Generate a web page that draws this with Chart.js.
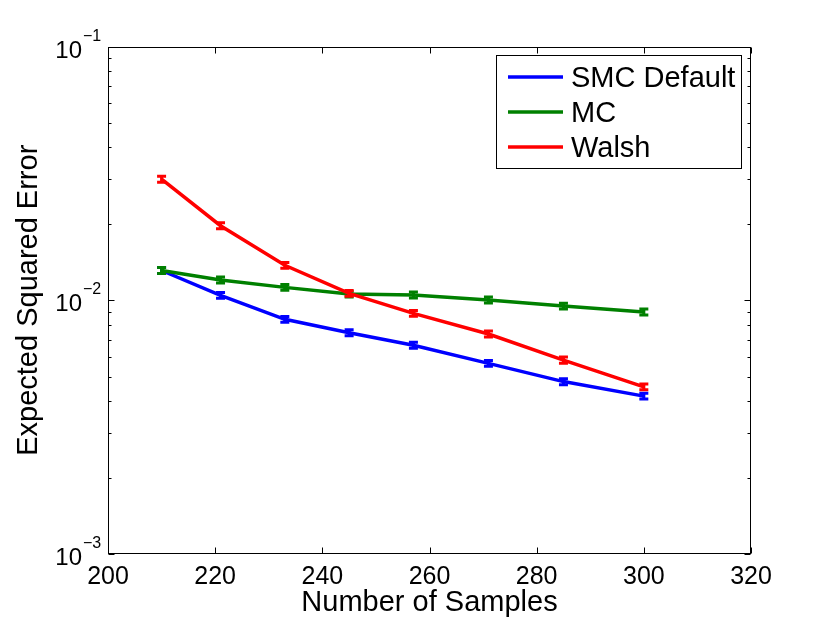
<!DOCTYPE html>
<html>
<head>
<meta charset="utf-8">
<script src="https://cdn.jsdelivr.net/npm/chart.js@4.4.1/dist/chart.umd.min.js"></script>
<style>
  html, body { margin: 0; padding: 0; background: #fff; }
  #wrap { width: 830px; height: 625px; }
</style>
</head>
<body>
<div id="wrap"><canvas id="errorChart" width="830" height="625"></canvas></div>
<script>
// values
const samples = [210, 221, 233, 245, 257, 271, 285, 300];

const smcDefault    = [0.0131, 0.01046, 0.00841, 0.00745, 0.00665, 0.00564, 0.00478, 0.00419];
const smcDefaultErr = [0.00035, 0.00028, 0.00022, 0.0002, 0.00018, 0.00015, 0.00013, 0.00011];

const mc    = [0.0131, 0.01202, 0.01124, 0.01058, 0.01049, 0.01002, 0.00949, 0.00899];
const mcErr = [0.00035, 0.00032, 0.0003, 0.00028, 0.00028, 0.00027, 0.00025, 0.00024];

const walsh    = [0.0300, 0.01967, 0.01373, 0.01065, 0.00888, 0.00736, 0.00581, 0.00456];
const walshErr = [0.0008, 0.00052, 0.00036, 0.00028, 0.00024, 0.0002, 0.00016, 0.00012];

const seriesNames = ['SMC Default', 'MC', 'Walsh'];
const xTicks = [200, 220, 240, 260, 280, 300, 320];
const yDecades = [0.001, 0.01, 0.1];
const yDecadeExps = ['\u22123', '\u22122', '\u22121'];
const minorSteps = [2, 3, 4, 5, 6, 7, 8, 9];

const FONT = '"Liberation Sans", Arial, Helvetica, sans-serif';

const toPoints = (vals) => vals.map((v, i) => ({ x: samples[i], y: v }));

// error bars drawn right after each series so the layering matches
const errorBars = {
  id: 'errorBars',
  afterDatasetDraw(chart, args) {
    const ds = chart.data.datasets[args.index];
    const xs = chart.scales.x, ys = chart.scales.y;
    const ctx = chart.ctx;
    ctx.save();
    ctx.strokeStyle = ds.borderColor;
    ctx.lineWidth = 3;
    ds.errors.forEach((e, i) => {
      const v = ds.data[i].y;
      const x = xs.getPixelForValue(ds.data[i].x);
      const yHi = ys.getPixelForValue(v + e);
      const yLo = ys.getPixelForValue(v - e);
      ctx.beginPath();
      ctx.moveTo(x, yHi); ctx.lineTo(x, yLo);
      ctx.moveTo(x - 4.5, yHi); ctx.lineTo(x + 4.5, yHi);
      ctx.moveTo(x - 4.5, yLo); ctx.lineTo(x + 4.5, yLo);
      ctx.stroke();
    });
    ctx.restore();
  }
};

// matlab style box with inward ticks, superscript y labels and legend
const axesBox = {
  id: 'axesBox',
  beforeDraw(chart) {
    const ctx = chart.ctx;
    ctx.save();
    ctx.fillStyle = '#fff';
    ctx.fillRect(0, 0, chart.width, chart.height);
    ctx.restore();
  },
  afterDraw(chart) {
    const ctx = chart.ctx;
    const a = chart.chartArea;
    const xs = chart.scales.x, ys = chart.scales.y;
    const L = Math.round(a.left) + 0.5, R = Math.round(a.right) - 0.5;
    const T = Math.round(a.top) + 0.5, B = Math.round(a.bottom) - 0.5;
    ctx.save();
    ctx.strokeStyle = '#000';
    ctx.lineWidth = 1;
    ctx.strokeRect(L, T, R - L, B - T);

    ctx.beginPath();
    xTicks.forEach(v => {
      const x = Math.round(xs.getPixelForValue(v)) + 0.5;
      ctx.moveTo(x, B); ctx.lineTo(x, B - 6);
      ctx.moveTo(x, T); ctx.lineTo(x, T + 6);
    });
    yDecades.forEach((d, k) => {
      const y = Math.round(ys.getPixelForValue(d)) + 0.5;
      ctx.moveTo(L, y); ctx.lineTo(L + 6, y);
      ctx.moveTo(R, y); ctx.lineTo(R - 6, y);
      if (k < yDecades.length - 1) {
        minorSteps.forEach(m => {
          const ym = Math.round(ys.getPixelForValue(d * m)) + 0.5;
          ctx.moveTo(L, ym); ctx.lineTo(L + 3, ym);
          ctx.moveTo(R, ym); ctx.lineTo(R - 3, ym);
        });
      }
    });
    ctx.stroke();

    // y tick labels 10^k
    ctx.fillStyle = '#000';
    ctx.textBaseline = 'alphabetic';
    yDecades.forEach((d, k) => {
      const y = ys.getPixelForValue(d);
      ctx.font = '24px ' + FONT;
      ctx.textAlign = 'right';
      ctx.fillText('10', 82, y + 11);
      ctx.font = '16px ' + FONT;
      ctx.textAlign = 'left';
      ctx.fillText(yDecadeExps[k], 83, y - 6);
    });

    // legend
    const lx = 496.5, ly = 55.5, lw = 245, lh = 113;
    ctx.fillStyle = '#fff';
    ctx.fillRect(lx, ly, lw, lh);
    ctx.strokeRect(lx, ly, lw, lh);
    const rows = [77, 112, 147];
    chart.data.datasets.forEach((ds, i) => {
      ctx.strokeStyle = ds.borderColor;
      ctx.lineWidth = 3.5;
      ctx.beginPath();
      ctx.moveTo(508, rows[i]); ctx.lineTo(563, rows[i]);
      ctx.stroke();
      ctx.fillStyle = '#000';
      ctx.font = '29px ' + FONT;
      ctx.textAlign = 'left';
      ctx.fillText(ds.label, 571, rows[i] + 10);
    });
    ctx.restore();
  }
};

const seriesStyle = (color, order) => ({
  borderColor: color,
  backgroundColor: color,
  borderWidth: 3.5,
  pointRadius: 0,
  tension: 0,
  fill: false,
  order: order
});

new Chart(document.getElementById('errorChart'), {
  type: 'line',
  data: {
    datasets: [
      { label: seriesNames[0], data: toPoints(smcDefault), errors: smcDefaultErr, ...seriesStyle('#0000ff', 3) },
      { label: seriesNames[1], data: toPoints(mc), errors: mcErr, ...seriesStyle('#008000', 2) },
      { label: seriesNames[2], data: toPoints(walsh), errors: walshErr, ...seriesStyle('#ff0000', 1) }
    ]
  },
  options: {
    responsive: false,
    animation: false,
    devicePixelRatio: 1,
    layout: { padding: { top: 46.5, right: 79, left: 0, bottom: 0 } },
    plugins: {
      legend: { display: false },
      tooltip: { enabled: false }
    },
    scales: {
      x: {
        type: 'linear',
        min: 200,
        max: 320,
        afterBuildTicks: (s) => { s.ticks = xTicks.map(v => ({ value: v })); },
        afterFit: (s) => { s.height = 71; },
        grid: { display: false, drawTicks: false },
        border: { display: false },
        ticks: { color: '#000', font: { family: FONT, size: 25 }, padding: 8, maxRotation: 0, autoSkip: false },
        title: { display: true, text: 'Number of Samples', color: '#000', font: { family: FONT, size: 29 }, padding: { top: 0, bottom: 5 } }
      },
      y: {
        type: 'logarithmic',
        min: 0.001,
        max: 0.1,
        afterFit: (s) => { s.width = 108; },
        grid: { display: false, drawTicks: false },
        border: { display: false },
        ticks: { display: false },
        title: { display: true, text: 'Expected Squared Error', color: '#000', font: { family: FONT, size: 29 }, padding: { top: 12, bottom: 0 } }
      }
    }
  },
  plugins: [errorBars, axesBox]
});
</script>
</body>
</html>
